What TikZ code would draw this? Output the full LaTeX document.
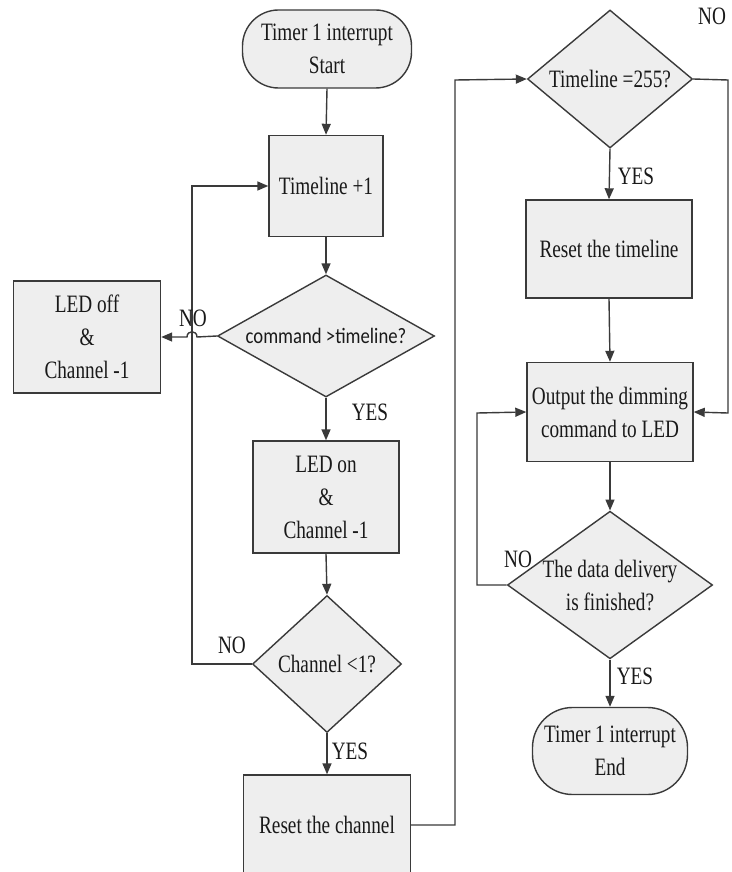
\documentclass[tikz,border=0pt]{standalone}
\usepackage{fontspec}
\setmainfont{Liberation Serif}[FakeStretch=0.77]
\newfontfamily\calib{Carlito}[FakeStretch=0.85]
\usetikzlibrary{shapes.geometric,arrows.meta}
\definecolor{ln}{HTML}{3A3A3A}
\definecolor{bx}{HTML}{EEEEEE}
\begin{document}
\begin{tikzpicture}[x=1pt,y=-1pt,
  every node/.style={font=\fontsize{25}{33}\selectfont, text=black!90},
  boxnode/.style={draw=ln, line width=1.4pt, fill=bx, rectangle, inner sep=0pt, align=center},
  term/.style={boxnode, rounded corners=36pt},
  dia/.style={draw=ln, line width=1.4pt, fill=bx, diamond, inner sep=0pt, align=center},
  conn/.style={draw=ln, line width=1.4pt},
  arr/.style={conn, -{Triangle[length=11pt,width=9pt]}},
  lbl/.style={inner sep=0pt}
]
\useasboundingbox[fill=white] (0,0) rectangle (731,872);

% left column
\node[term, minimum width=169pt, minimum height=78pt] (start) at (327,49) {Timer 1 interrupt\\Start};
\node[boxnode, minimum width=114pt, minimum height=101pt] (tl1) at (326,186) {Timeline +1};
\node[dia, minimum width=217pt, minimum height=122pt, aspect=1.78] (cmd) at (326,336) {\calib\fontsize{22}{30}\selectfont command >timeline?};
\node[boxnode, minimum width=147pt, minimum height=112pt] (ledoff) at (87,337) {LED off\\\&\\Channel -1};
\node[boxnode, minimum width=146pt, minimum height=112pt] (ledon) at (326,497) {LED on\\\&\\Channel -1};
\node[dia, minimum width=149pt, minimum height=137pt, aspect=1.09] (ch1) at (327,664) {Channel <1?};
\node[boxnode, minimum width=167pt, minimum height=100pt] (rch) at (327,825) {Reset the channel};

% right column
\node[dia, minimum width=165pt, minimum height=138pt, aspect=1.2] (t255) at (610,79) {Timeline =255?};
\node[boxnode, minimum width=166pt, minimum height=98pt] (rtl) at (609,249) {Reset the timeline};
\node[boxnode, minimum width=166pt, minimum height=99pt] (out) at (610,412) {Output the dimming\\command to LED};
\node[dia, minimum width=194pt, minimum height=140pt, aspect=1.39] (dd) at (610,585) {The data delivery\\is finished?};
\node[term, minimum width=155pt, minimum height=87pt, rounded corners=40pt] (end) at (610,751) {Timer 1 interrupt\\End};

% helper coordinates
\coordinate (lx1) at (192,664);
\coordinate (lx2) at (192,186);
\coordinate (rx1) at (455,825);
\coordinate (rx2) at (455,80);
\coordinate (nx1) at (728,80);
\coordinate (nx2) at (728,413);
\coordinate (dx1) at (477,585);
\coordinate (dx2) at (477,413);
\coordinate (h1) at (197,337);
\coordinate (h2) at (187,337);

% connectors
\draw[arr] (start.south) -- (tl1.north);
\draw[arr] (tl1.south) -- (cmd.north);
\draw[arr] (cmd.west) -- (h1) .. controls (197,330) and (187,330) .. (h2) -- (ledoff.east);
\draw[arr] (cmd.south) -- (ledon.north);
\draw[arr] (ledon.south) -- (ch1.north);
\draw[arr] (ch1.west) -- (lx1) -- (lx2) -- (tl1.west);
\draw[arr] (ch1.south) -- (rch.north);
\draw[arr] (rch.east) -- (rx1) -- (rx2) -- (t255.west);
\draw[arr] (t255.south) -- (rtl.north);
\draw[arr] (t255.east) -- (nx1) -- (nx2) -- (out.east);
\draw[arr] (rtl.south) -- (out.north);
\draw[arr] (out.south) -- (dd.north);
\draw[arr] (dd.west) -- (dx1) -- (dx2) -- (out.west);
\draw[arr] (dd.south) -- (end.north);

% labels
\node[lbl] (l1) at (193,318) {NO};
\node[lbl] (l2) at (370,412) {YES};
\node[lbl] (l3) at (232,645) {NO};
\node[lbl] (l4) at (350,751) {YES};
\node[lbl] (l5) at (636,176) {YES};
\node[lbl] (l6) at (712,16) {NO};
\node[lbl] (l7) at (518,559) {NO};
\node[lbl] (l8) at (635,676) {YES};
\end{tikzpicture}
\end{document}
